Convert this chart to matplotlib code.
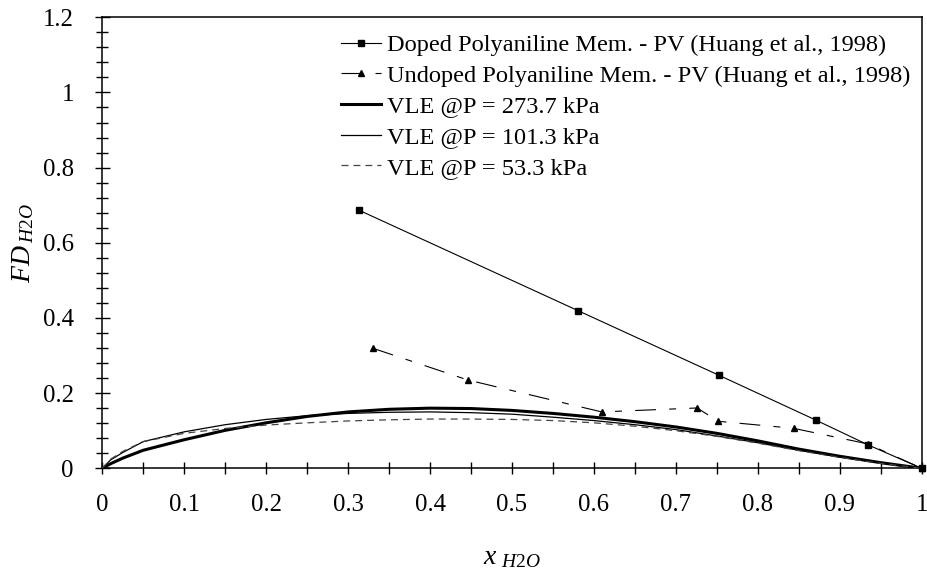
import matplotlib
matplotlib.use("Agg")
import matplotlib.pyplot as plt
from matplotlib.ticker import MultipleLocator

plt.rcParams['font.family'] = ['Liberation Serif', 'DejaVu Serif']
plt.rcParams['mathtext.fontset'] = 'custom'
plt.rcParams['mathtext.it'] = 'Liberation Serif:italic'
plt.rcParams['mathtext.rm'] = 'Liberation Serif'
plt.rcParams['lines.scale_dashes'] = False

# Pervaporation data (Huang et al., 1998)
doped_x = [0.313, 0.581, 0.7526, 0.8706, 0.934, 1.0]
doped_fd = [0.687, 0.419, 0.2475, 0.1285, 0.0628, 0.0]

undoped_x = [0.3307, 0.446, 0.6095, 0.7258, 0.752, 0.8436, 0.934, 1.0]
undoped_fd = [0.319, 0.235, 0.150, 0.1605, 0.125, 0.1064, 0.065, 0.0]

# Vapour-liquid equilibrium curves
vle_x = [0.0, 0.01, 0.025, 0.05, 0.1, 0.15, 0.2, 0.25, 0.3, 0.35, 0.4, 0.45,
         0.5, 0.55, 0.6, 0.65, 0.7, 0.75, 0.8, 0.85, 0.9, 0.95, 1.0]
vle_273 = [0.0, 0.012, 0.027, 0.048, 0.076, 0.101, 0.121, 0.138, 0.150, 0.157,
           0.160, 0.159, 0.154, 0.146, 0.136, 0.124, 0.110, 0.093, 0.073,
           0.051, 0.032, 0.015, 0.0]
vle_101 = [0.0, 0.022, 0.042, 0.071, 0.097, 0.116, 0.130, 0.140, 0.146, 0.149,
           0.150, 0.148, 0.144, 0.136, 0.127, 0.116, 0.103, 0.086, 0.068,
           0.048, 0.030, 0.014, 0.0]
vle_53 = [0.0, 0.024, 0.045, 0.071, 0.093, 0.106, 0.115, 0.121, 0.126, 0.129,
          0.131, 0.131, 0.130, 0.127, 0.121, 0.112, 0.100, 0.085, 0.067,
          0.047, 0.029, 0.013, 0.0]

labels = ["Doped Polyaniline Mem. - PV (Huang et al., 1998)",
          "Undoped Polyaniline Mem. - PV (Huang et al., 1998)",
          "VLE @P = 273.7 kPa",
          "VLE @P = 101.3 kPa",
          "VLE @P = 53.3 kPa"]

fig = plt.figure(figsize=(9.28, 5.72), dpi=100)
ax = fig.add_axes([0.1102, 0.1813, 0.9932 - 0.1102, 0.9698 - 0.1813])

ax.plot(doped_x, doped_fd, color='black', lw=0.8, marker='s', ms=4.5,
        label=labels[0], clip_on=False, zorder=5)
ax.plot(undoped_x, undoped_fd, color='black', lw=0.8, marker='^', ms=4,
        linestyle=(0, (15, 9.5, 5, 9.5)), label=labels[1], clip_on=False, zorder=5)
ax.plot(vle_x, vle_273, color='black', lw=2.2, label=labels[2], zorder=4)
ax.plot(vle_x, vle_101, color='black', lw=0.9, label=labels[3], zorder=4)
ax.plot(vle_x, vle_53, color='#444444', lw=0.9, linestyle=(0, (5, 3.6)),
        label=labels[4], zorder=4)

ax.set_xlim(0, 1)
ax.set_ylim(0, 1.2)
ax.xaxis.set_major_locator(MultipleLocator(0.1))
ax.xaxis.set_minor_locator(MultipleLocator(0.05))
ax.yaxis.set_major_locator(MultipleLocator(0.2))
ax.yaxis.set_minor_locator(MultipleLocator(0.04))
ax.xaxis.set_major_formatter(plt.FuncFormatter(lambda v, p: f"{v:g}"))
ax.yaxis.set_major_formatter(plt.FuncFormatter(lambda v, p: f"{v:g}"))

ax.tick_params(axis='x', which='both', direction='inout', length=8.9, width=1.0,
               labelsize=17.8, pad=14)
ax.tick_params(axis='y', which='major', direction='inout', length=10.8, width=1.0,
               labelsize=17.8, pad=15)
ax.tick_params(axis='y', which='minor', direction='inout', length=8.9, width=1.0)
ax.tick_params(top=False, right=False, which='both')

for s in ax.spines.values():
    s.set_linewidth(1.1)

ax.set_xlabel(r'$x\;{}_{\mathit{H2O}}$', fontsize=20, labelpad=21)
ax.set_ylabel(r'$FD\,{}_{\mathit{H2O}}$', fontsize=20, labelpad=5)

ax.legend(loc='upper left', bbox_to_anchor=(341 / 928, 1 - 34 / 572),
          bbox_transform=fig.transFigure, frameon=False, fontsize=17.6,
          handlelength=1.65, handletextpad=0.25, labelspacing=0.35,
          borderpad=0, borderaxespad=0, numpoints=1)

fig.savefig("out.png", dpi=100)
